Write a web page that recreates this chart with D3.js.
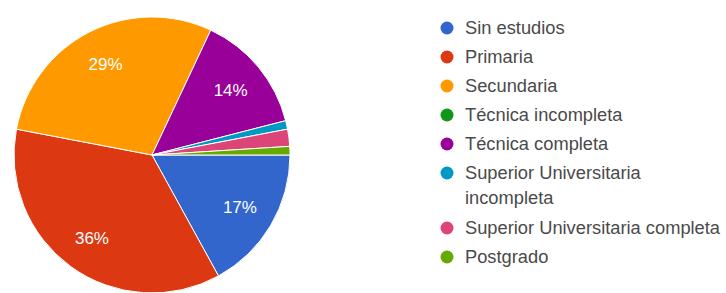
<!DOCTYPE html>
<html>
<head>
<meta charset="utf-8">
<script src="https://cdn.jsdelivr.net/npm/d3@7"></script>
<style>
  body { margin: 0; background: #fff; }
  svg { display: block; font-family: Arial, "Liberation Sans", sans-serif; }
</style>
</head>
<body>
<script>
const categories = [
  'Sin estudios',
  'Primaria',
  'Secundaria',
  'Técnica incompleta',
  'Técnica completa',
  'Superior Universitaria incompleta',
  'Superior Universitaria completa',
  'Postgrado'
];
const values = [17, 36, 29, 0, 14, 1, 2, 1];
const colors = ['#3366cc', '#dc3912', '#ff9900', '#109618', '#990099', '#0099c6', '#dd4477', '#66aa00'];
// legend lines (long labels wrap the way the original does)
const legendLines = [
  ['Sin estudios'],
  ['Primaria'],
  ['Secundaria'],
  ['Técnica incompleta'],
  ['Técnica completa'],
  ['Superior Universitaria', 'incompleta'],
  ['Superior Universitaria completa'],
  ['Postgrado']
];

const width = 726;
const height = 293;
const cx = 152, cy = 155, radius = 138;

const data = categories.map((c, i) => ({ name: c, value: values[i], color: colors[i], lines: legendLines[i] }));

const svg = d3.select('body').append('svg')
  .attr('width', width)
  .attr('height', height);

const pie = d3.pie()
  .sort(null)
  .value(d => d.value)
  .startAngle(Math.PI / 2)
  .endAngle(Math.PI / 2 + 2 * Math.PI);

const arc = d3.arc().innerRadius(0).outerRadius(radius);
const labelArc = d3.arc().innerRadius(radius * 0.74).outerRadius(radius * 0.74);

const total = d3.sum(values);
const slices = pie(data).filter(d => d.data.value > 0);

const g = svg.append('g').attr('transform', `translate(${cx},${cy})`);

g.selectAll('path')
  .data(slices)
  .join('path')
    .attr('d', arc)
    .attr('fill', d => d.data.color)
    .attr('stroke', '#fff')
    .attr('stroke-width', 1);

g.selectAll('text')
  .data(slices.filter(d => d.data.value / total >= 0.05))
  .join('text')
    .attr('transform', d => `translate(${labelArc.centroid(d)})`)
    .attr('text-anchor', 'middle')
    .attr('dy', '0.35em')
    .attr('fill', '#fff')
    .style('font-size', '17px')
    .text(d => `${Math.round(d.data.value / total * 100)}%`);

// legend
const legend = svg.append('g').attr('transform', 'translate(447,0)');
let y = 28;
data.forEach(d => {
  const item = legend.append('g').attr('transform', `translate(0,${y})`);
  item.append('circle')
    .attr('r', 6.5)
    .attr('fill', d.color);
  d.lines.forEach((line, j) => {
    item.append('text')
      .attr('x', 18)
      .attr('y', j * 25)
      .attr('dy', '0.35em')
      .attr('fill', '#4a4a4a')
      .style('font-size', '18.3px')
      .text(line);
  });
  y += 29 + (d.lines.length - 1) * 26;
});
</script>
</body>
</html>
